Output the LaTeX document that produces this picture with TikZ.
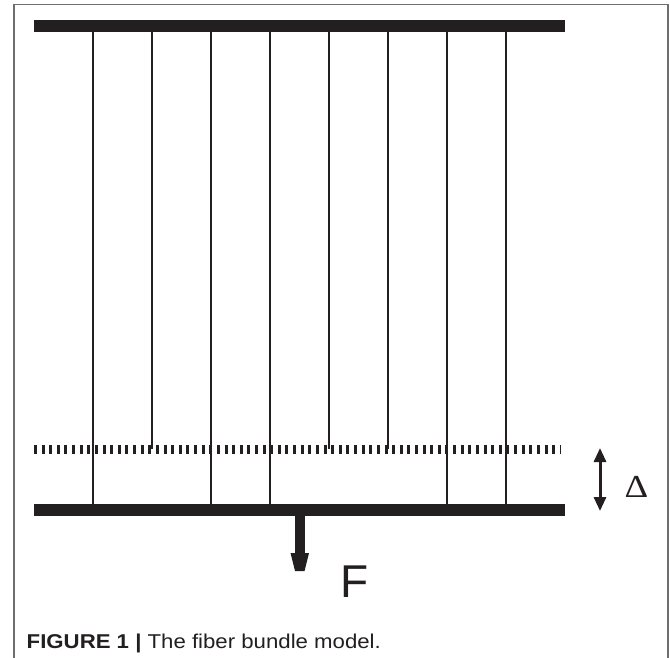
\documentclass[tikz,border=0pt]{standalone}
\usepackage{fontspec}
\setmainfont{Liberation Sans}
\newfontfamily\deltafont{Liberation Serif}
\usetikzlibrary{arrows.meta}
\definecolor{ink}{HTML}{231F20}
\definecolor{framec}{HTML}{6E6E6E}
\tikzset{
  fiber/.style={ink, line width=2pt},
  barfill/.style={fill=ink},
}
\begin{document}
\begin{tikzpicture}[x=1pt,y=-1pt]
\useasboundingbox[fill=white] (0,0) rectangle (670,658);
% frame
\draw[line width=1.5pt, framec] (14,662) -- (14,4.5) -- (668,4.5) -- (668,662);
% clamps
\fill[barfill] (34,20) rectangle (565,32);
\fill[barfill] (34,504) rectangle (565,516);
% dotted threshold line
\draw[ink, line width=9pt, dash pattern=on 3pt off 4.62pt] (34,449.5) -- (561,449.5);
% fibers
\foreach \x/\e [count=\i] in {93/504,152/449,211/504,270/504,329/449,388/449,447/504,506/504}{
  \coordinate (t\i) at (\x,32);
  \coordinate (b\i) at (\x,\e);
  \draw[fiber] (t\i) -- (b\i);
}
% delta arrow
\coordinate (da) at (600,448);
\coordinate (db) at (600,511);
\draw[ink, line width=3pt, {Triangle[width=12pt,length=14pt]}-{Triangle[width=12pt,length=14pt]}] (da) -- (db);
\node[font=\deltafont\fontsize{32}{32}\selectfont, inner sep=0, anchor=base, text=ink, xscale=1.15] (D) at (636.5,497) {Δ};
% force arrow
\fill[ink] (294.5,516) rectangle (304.5,553.5);
\fill[ink] (290.5,553) -- (309,553) -- (304.5,571) -- (295,571) -- cycle;
\node[font=\fontsize{46}{46}\selectfont, anchor=base west, inner sep=0, text=ink] (F) at (340.5,597) {F};
% caption
\node[anchor=base west, inner sep=0, font=\fontsize{20}{20}\selectfont, text=ink, xscale=1.11] (cap) at (26.5,648) {\textbf{FIGURE 1 |} The fiber bundle model.};
\end{tikzpicture}
\end{document}
